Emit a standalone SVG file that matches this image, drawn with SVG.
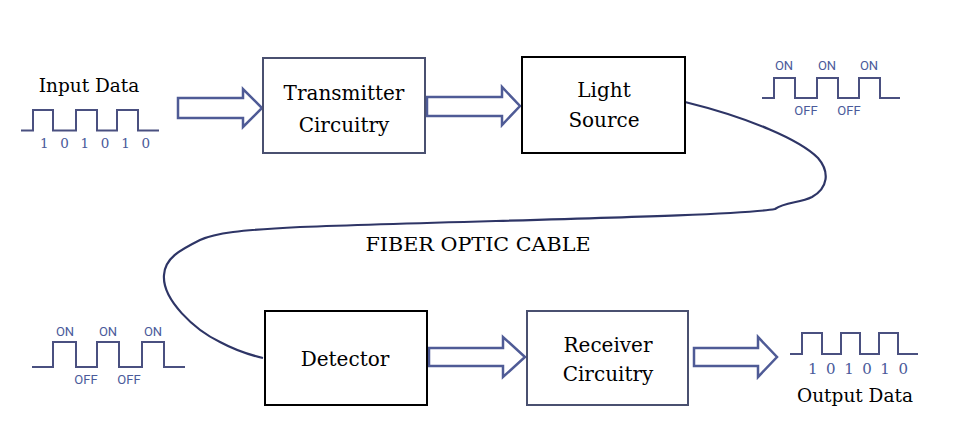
<svg xmlns="http://www.w3.org/2000/svg" width="960" height="441" viewBox="0 0 960 441">
<style>
.lbl{font-family:"DejaVu Serif","Liberation Serif",serif;fill:#000;text-anchor:middle}
.dig{font-family:"DejaVu Serif","Liberation Serif",serif;fill:#4a5a9a}
.st{font-family:Roboto,"Liberation Sans",sans-serif;font-size:13px;fill:#4a5a9a;text-anchor:middle}
.wave{fill:none;stroke:#4a5080;stroke-width:2}
.arrow{fill:#fff;stroke:#4f5b96;stroke-width:2.5;stroke-linejoin:miter}
.boxb{fill:#fff;stroke:#4a5070;stroke-width:2}
.boxk{fill:#fff;stroke:#000;stroke-width:2}
.cable{fill:none;stroke:#2e3566;stroke-width:2.2}
</style>
<rect width="960" height="441" fill="#fff"/>

<g id="connectors">
<path class="cable" d="M685,102 C750,118 800,140 818,158 C830,172 828,188 812,197 C800,203 785,202 775,209 C740,216 500,220 300,227 C240,230 215,233 200,240 C180,250 165,258 164,275 C162,300 195,330 220,342 C235,350 250,355 263,358"/>
<path class="arrow" d="M178,98 L243,98 L243,89 L262,108 L243,127 L243,118 L178,118 Z"/>
<path class="arrow" d="M427,97 L502,97 L502,87 L520,106 L502,125 L502,116 L427,116 Z"/>
<path class="arrow" d="M429,348 L503,348 L503,337 L525,357 L503,377 L503,366 L429,366 Z"/>
<path class="arrow" d="M694,348 L758,348 L758,337 L777,357 L758,377 L758,366 L694,366 Z"/>
</g>

<g id="input">
<text class="lbl" x="89" y="92" font-size="18.5">Input Data</text>
<path class="wave" d="M21,130.5 H33 V110 H53 V130.5 H76 V110 H97 V130.5 H117 V110 H138 V130.5 H159"/>
<text class="dig" x="40" y="148" font-size="13.5" textLength="110" lengthAdjust="spacing">1 0 1 0 1 0</text>
</g>

<g id="transmitter">
<rect class="boxb" x="263" y="58" width="162" height="95"/>
<text class="lbl" x="344" y="100" font-size="20">Transmitter</text>
<text class="lbl" x="344" y="132" font-size="20">Circuitry</text>
</g>

<g id="lightsource">
<rect class="boxk" x="522" y="57" width="163" height="96"/>
<text class="lbl" x="604" y="97" font-size="20">Light</text>
<text class="lbl" x="604" y="127" font-size="20">Source</text>
</g>

<g id="lightsignal">
<path class="wave" d="M762,98 H774 V78 H795 V98 H817 V78 H838 V98 H859 V78 H880 V98 H900"/>
<text class="st" x="784" y="70">ON</text>
<text class="st" x="827" y="70">ON</text>
<text class="st" x="869" y="70">ON</text>
<text class="st" x="806" y="115">OFF</text>
<text class="st" x="849" y="115">OFF</text>
</g>

<g id="cablelabel">
<text class="lbl" x="478" y="251" font-size="19" textLength="225" lengthAdjust="spacingAndGlyphs">FIBER OPTIC CABLE</text>
</g>

<g id="detectorsignal">
<path class="wave" d="M32,367 H53 V342 H76 V367 H97 V342 H119 V367 H142 V342 H164 V367 H185"/>
<text class="st" x="65" y="336">ON</text>
<text class="st" x="108" y="336">ON</text>
<text class="st" x="153" y="336">ON</text>
<text class="st" x="86" y="384">OFF</text>
<text class="st" x="129" y="384">OFF</text>
</g>

<g id="detector">
<rect class="boxk" x="265" y="311" width="162" height="94"/>
<text class="lbl" x="345" y="366" font-size="20">Detector</text>
</g>

<g id="receiver">
<rect class="boxb" x="527" y="311" width="161" height="94"/>
<text class="lbl" x="608" y="352" font-size="20">Receiver</text>
<text class="lbl" x="608" y="381" font-size="20">Circuitry</text>
</g>

<g id="output">
<path class="wave" d="M790,354 H802 V333 H822 V354 H841 V333 H860 V354 H879 V333 H898 V354 H918"/>
<text class="dig" x="808" y="374" font-size="15" textLength="100" lengthAdjust="spacing">1 0 1 0 1 0</text>
<text class="lbl" x="855" y="402" font-size="18.5">Output Data</text>
</g>
</svg>
